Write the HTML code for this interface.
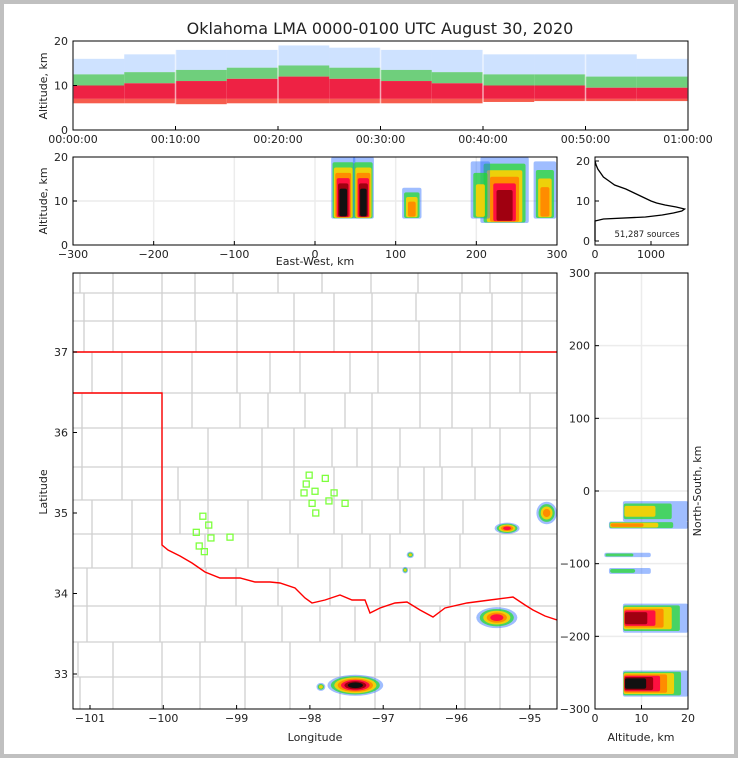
<!DOCTYPE html>
<html><head><meta charset="utf-8"><style>
html,body{margin:0;padding:0;background:#c0c0c0;}
svg{display:block;font-family:"DejaVu Sans","Liberation Sans",sans-serif;}
text{fill:#222;}
</style></head><body>
<svg id="fig" width="738" height="758" xmlns="http://www.w3.org/2000/svg">
<rect x="4" y="4" width="730" height="750" fill="#fff"/>
<text x="380" y="34" font-size="16" text-anchor="middle">Oklahoma LMA 0000-0100 UTC August 30, 2020</text>
<g id="g"></g>
</svg>
<script>
// ---- Data ----
const timeMin = [0,5,10,15,20,25,30,35,40,45,50,55];
const bandBottom = [6,6,5.8,6,6,6,6,6,6.3,6.5,6.5,6.5];
const coreLow = [7,7,7,7,7,7,7,7,7,7,7,7];
const coreHigh = [10,10.5,11,11.5,12,11.5,11,10.5,10,10,9.5,9.5];
const midHigh = [12.5,13,13.5,14,14.5,14,13.5,13,12.5,12.5,12,12];
const bandTop = [16,17,18,18,19,18.5,18,18,17,17,17,16];
const timeTicks = ["00:00:00","00:10:00","00:20:00","00:30:00","00:40:00","00:50:00","01:00:00"];

const ewCenter = [35,60,120,235,285,205];
const ewHalf = [15,13,12,30,14,12];
const ewBottom = [6,6,6,5,6,6];
const ewTop = [20,20,13,20,19,19];
const ewLevels = [7,7,4,6,4,3];
const ewTicks = [-300,-200,-100,0,100,200,300];

const histAlt = [0,5,5.5,6,6.5,7,7.5,8,8.5,9,9.5,10,11,12,13,14,15,16,17,18,19,20];
const histCount = [0,0,150,900,1200,1400,1550,1600,1450,1250,1100,1000,850,700,550,350,250,150,100,50,20,0];

const staLon = [-98.01,-97.79,-98.05,-98.08,-97.93,-97.67,-97.97,-97.74,-97.52,-97.92,-99.46,-99.38,-99.55,-99.35,-99.51,-99.44,-99.09];
const staLat = [35.47,35.43,35.36,35.25,35.27,35.25,35.12,35.15,35.12,35.0,34.96,34.85,34.76,34.69,34.59,34.52,34.70];

const cellLon = [-95.45,-95.31,-94.77,-96.63,-96.70,-97.38,-97.85];
const cellLat = [33.70,34.81,35.0,34.48,34.29,32.86,32.84];
const cellRx = [0.28,0.17,0.14,0.05,0.04,0.38,0.06];
const cellRy = [0.13,0.07,0.14,0.04,0.04,0.13,0.05];
const cellLevels = [5,5,4,3,3,7,3];

const nsCenter = [-28,-47,-88,-110,-175,-265];
const nsHalf = [14,5,3,4,20,18];
const nsLow = [6,3,2,3,6,6];
const nsHigh = [20,20,12,12,20,20];
const nsLevels = [3,4,2,2,6,7];

const lonTicks = [-101,-100,-99,-98,-97,-96,-95];
const latTicks = [33,34,35,36,37];
const nsTicks = [300,200,100,0,-100,-200,-300];

// ---- axes ----
const tx = m => 73 + m*615/60, ty = a => 130 - a*89/20;
const ex = k => 315 + k*484/600, ey = a => 245 - a*88/20;
const hx = c => 595 + c*0.056, hy = a => 241 - a*4;
const mx = lon => 90 + (lon+101)*73.3, my = lat => 352 + (37-lat)*80.5;
const nx = a => 595 + a*4.65, ny = k => 491 - k*218/300;

const NS = "http://www.w3.org/2000/svg";
const G = document.getElementById('g');
function el(tag, attrs, parent){const e=document.createElementNS(NS,tag);for(const k in attrs)e.setAttribute(k,attrs[k]);(parent||G).appendChild(e);return e;}
function txt(x,y,s,size,anchor,parent){const t=el('text',{x:x,y:y,'font-size':size,'text-anchor':anchor||'middle'},parent);t.textContent=s;return t;}
const palette = ['#2a6cff','#22dd22','#ffd000','#ff8c00','#ff1040','#a00010','#111','#bbb'];
const alpha = [0.45,0.7,0.9,1,1,1,1,1];

// ===== Panel 1: time-height =====
const p1 = el('g',{});  
timeMin.forEach((t,i)=>{
  const x0=tx(t), w=tx(t+5)-x0;
  let r=el('rect',{x:x0,y:ty(bandTop[i]),width:w,height:ty(midHigh[i])-ty(bandTop[i]),fill:'#3a8cff',opacity:0.25},p1);
   
  r=el('rect',{x:x0,y:ty(midHigh[i]),width:w,height:ty(coreHigh[i])-ty(midHigh[i]),fill:'#3fbf50',opacity:0.75},p1);
   
  r=el('rect',{x:x0,y:ty(coreHigh[i]),width:w,height:ty(coreLow[i])-ty(coreHigh[i]),fill:'#ee2244'},p1);
   
  r=el('rect',{x:x0,y:ty(coreLow[i]),width:w,height:ty(bandBottom[i])-ty(coreLow[i]),fill:'#f54a3a',opacity:0.9},p1);
   
});
timeTicks.forEach((s,i)=>{const x=tx(i*10);
  el('line',{x1:x,x2:x,y1:41,y2:130,stroke:'#fff','stroke-width':1.5,opacity:0.6},p1);
  el('line',{x1:x,x2:x,y1:130,y2:126,stroke:'#000'},p1);
  const t=txt(x,143,s,11,'middle',p1);  
});
[0,10,20].forEach(a=>{el('line',{x1:73,x2:77,y1:ty(a),y2:ty(a),stroke:'#000'},p1);txt(68,ty(a)+4,a,11,'end',p1);});
el('rect',{x:73,y:41,width:615,height:89,fill:'none',stroke:'#000','stroke-width':1},p1);
let lbl=txt(0,0,'Altitude, km',11,'middle',p1); lbl.setAttribute('transform','translate(47,86) rotate(-90)');
 

// ===== Panel 2: east-west =====
const p2 = el('g',{});  
ewTicks.forEach(k=>{el('line',{x1:ex(k),x2:ex(k),y1:157,y2:245,stroke:'#ececec','stroke-width':1.5},p2);});
el('line',{x1:73,x2:557,y1:ey(10),y2:ey(10),stroke:'#ececec','stroke-width':1.5},p2);
ewCenter.forEach((c,i)=>{
  const n=ewLevels[i];
  for(let l=0;l<n;l++){
    const f=l/n;
    const x0=ex(c-ewHalf[i]*(1-f*0.8)), x1=ex(c+ewHalf[i]*(1-f*0.8));
    const top=ewTop[i]-(ewTop[i]-ewBottom[i])*f*0.6, bot=ewBottom[i]+f*0.6;
    const r=el('rect',{x:x0,y:ey(top),width:x1-x0,height:ey(bot)-ey(top),fill:palette[l],opacity:alpha[l],rx:2},p2);
     
  }
});
ewTicks.forEach(k=>{el('line',{x1:ex(k),x2:ex(k),y1:245,y2:241,stroke:'#000'},p2);txt(ex(k),258,k<0?'\u2212'+(-k):k,11,'middle',p2);});
[0,10,20].forEach(a=>{el('line',{x1:73,x2:77,y1:ey(a),y2:ey(a),stroke:'#000'},p2);txt(68,ey(a)+4,a,11,'end',p2);});
el('rect',{x:73,y:157,width:484,height:88,fill:'none',stroke:'#000'},p2);
lbl=txt(0,0,'Altitude, km',11,'middle',p2); lbl.setAttribute('transform','translate(47,201) rotate(-90)');
 
lbl=txt(315,265,'East-West, km',11,'middle',p2);  

// ===== Panel 3: histogram =====
const p3 = el('g',{});  
const hp = el('polyline',{points:histAlt.map((a,i)=>hx(histCount[i])+','+hy(a)).join(' '),fill:'none',stroke:'#000','stroke-width':1.3},p3);
 
[0,1000].forEach(c=>{el('line',{x1:hx(c),x2:hx(c),y1:245,y2:241,stroke:'#000'},p3);txt(hx(c),258,c,11,'middle',p3);});
[0,10,20].forEach(a=>{el('line',{x1:595,x2:599,y1:hy(a),y2:hy(a),stroke:'#000'},p3);txt(590,hy(a)+4,a,11,'end',p3);});
el('rect',{x:595,y:157,width:93,height:88,fill:'none',stroke:'#000'},p3);
lbl=txt(647,237,'51,287 sources',8.5,'middle',p3);  

// ===== Map =====
const pm = el('g',{});  
const cp = el('clipPath',{id:'mc'},pm); el('rect',{x:73,y:273,width:484,height:436},cp);
const mg = el('g',{'clip-path':'url(#mc)'},pm);
const rows=[[273,293,[80,113,162,195,233,278,322,371,418,462,490,522]],[293,321,[84,113,162,195,237,294,334,372,416,460,492,522]],[321,352,[84,113,162,196,237,294,334,372,419,460,492,522]],[352,393,[92,122,162,192,237,270,300,350,378,420,452,490,520]],[393,428,[82,122,162,192,240,268,305,345,372,420,452,490,530]],[428,467,[82,122,162,208,262,294,332,357,372,400,440,472,500,530]],[467,500,[82,122,162,178,208,262,294,334,372,398,424,442,475,500,530]],[500,534,[92,132,162,180,208,248,290,334,362,400,424,463,500,530]],[534,568,[92,132,162,205,248,298,342,370,390,425,460,500,530]],[568,606,[87,160,206,236,278,330,380,410,450,500,530]],[606,642,[87,160,205,242,282,320,355,380,410,440,470,500,530]],[642,677,[78,113,162,200,245,290,340,375,420,465,500,530]],[677,709,[80,113,162,200,245,290,340,375,420,465,500,530]]];
rows.forEach(r=>{
  const l=el('line',{x1:73,x2:557,y1:r[0],y2:r[0],stroke:'#d0d0d0','stroke-width':1.3},mg);
   
  r[2].forEach(x=>{const v=el('line',{x1:x,x2:x,y1:r[0],y2:r[1],stroke:'#d0d0d0','stroke-width':1.3},mg);
     });
});
const border = el('polyline',{points:'73,352 557,352',fill:'none',stroke:'#f00','stroke-width':1.4},mg);
 
const rr = el('polyline',{points:'73,393 162,393 162,545 168,550 180,556 192,563 205,572 220,578 240,578 255,582 270,582 280,583 295,588 305,598 312,603 325,600 340,595 352,600 365,600 370,613 380,608 395,603 407,602 420,610 433,617 445,608 467,603 490,600 513,597 525,605 533,610 545,616 557,620',fill:'none',stroke:'#f00','stroke-width':1.4},mg);
 
cellLon.forEach((lon,i)=>{
  const n=cellLevels[i];
  for(let l=0;l<n;l++){const f=1-l/n*0.85;
    const e=el('ellipse',{cx:mx(lon),cy:my(cellLat[i]),rx:cellRx[i]*73.3*f,ry:cellRy[i]*80.5*f,fill:palette[l],opacity:alpha[l]},mg);
     }
});
staLon.forEach((lon,i)=>{const s=el('rect',{x:mx(lon)-3,y:my(staLat[i])-3,width:6,height:6,fill:'none',stroke:'#7dff3c','stroke-width':1.3},mg);
   });
lonTicks.forEach(l=>{el('line',{x1:mx(l),x2:mx(l),y1:709,y2:705,stroke:'#000'},pm);txt(mx(l),722,'\u2212'+(-l),11,'middle',pm);});
latTicks.forEach(l=>{el('line',{x1:73,x2:77,y1:my(l),y2:my(l),stroke:'#000'},pm);txt(68,my(l)+4,l,11,'end',pm);});
el('rect',{x:73,y:273,width:484,height:436,fill:'none',stroke:'#000'},pm);
lbl=txt(315,741,'Longitude',11,'middle',pm);  
lbl=txt(0,0,'Latitude',11,'middle',pm); lbl.setAttribute('transform','translate(47,492) rotate(-90)');
 

// ===== North-South panel =====
const pn = el('g',{});  
nsTicks.forEach(k=>el('line',{x1:595,x2:688,y1:ny(k),y2:ny(k),stroke:'#ececec','stroke-width':1.5},pn));
el('line',{x1:nx(10),x2:nx(10),y1:273,y2:709,stroke:'#ececec','stroke-width':1.5},pn);
nsCenter.forEach((c,i)=>{const n=nsLevels[i];
  for(let l=0;l<n;l++){const f=l/n;
    const a0=nsLow[i]+f*0.5, a1=nsHigh[i]-(nsHigh[i]-nsLow[i])*f*0.75;
    const y0=ny(c+nsHalf[i]*(1-f*0.7)), y1=ny(c-nsHalf[i]*(1-f*0.7));
    const r=el('rect',{x:nx(a0),y:y0,width:nx(a1)-nx(a0),height:y1-y0,fill:palette[l],opacity:alpha[l],rx:2},pn);
     }
});
nsTicks.forEach(k=>{el('line',{x1:595,x2:599,y1:ny(k),y2:ny(k),stroke:'#000'},pn);txt(590,ny(k)+4,k<0?'\u2212'+(-k):k,11,'end',pn);});
[0,10,20].forEach(a=>{el('line',{x1:nx(a),x2:nx(a),y1:709,y2:705,stroke:'#000'},pn);txt(nx(a),722,a,11,'middle',pn);});
el('rect',{x:595,y:273,width:93,height:436,fill:'none',stroke:'#000'},pn);
lbl=txt(641,741,'Altitude, km',11,'middle',pn);  
lbl=txt(0,0,'North-South, km',11,'middle',pn); lbl.setAttribute('transform','translate(701,491) rotate(-90)');
 
</script>
</body></html>
